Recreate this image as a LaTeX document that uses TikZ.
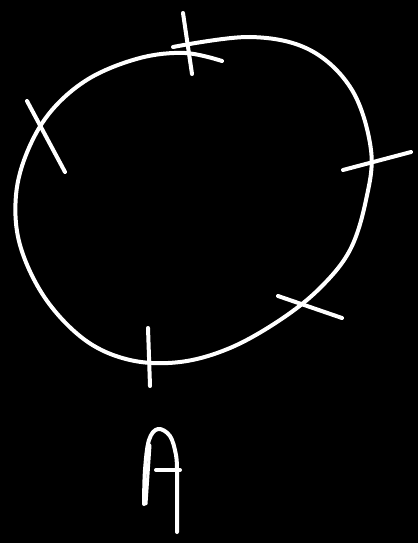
\documentclass[tikz,border=0pt]{standalone}
\begin{document}
\begin{tikzpicture}[x=1pt,y=-1pt,
  chalk/.style={draw=white,line width=4pt,line cap=round,line join=round}]
\fill[black] (0,0) rectangle (418,543);
\useasboundingbox (0,0) rectangle (418,543);
% oval
\draw[chalk] plot[smooth,tension=0.6] coordinates {
 (173,47) (250,37) (310,50) (352,90) (371,150) (366,200) (350,250) (320,288)
 (280,320) (230,348) (180,362) (130,360) (85,340) (45,298) (20,245) (16,195)
 (28,150) (52,110) (90,78) (140,58) (185,53) (222,61)};
% ticks
\draw[chalk] (183,13) -- (192,74);
\draw[chalk] (27,101) -- (65,172);
\draw[chalk] (343,170) -- (411,152);
\draw[chalk] (278,296) -- (342,318);
\draw[chalk] (148,328) -- (150,386);
% letter A
\draw[chalk] plot[smooth,tension=0.6] coordinates {(144,504) (145,470) (149,440) (158,429) (170,436) (176,455) (177,472)} -- (177,532);
\draw[chalk,line width=3pt] (146,504) -- (150,445);
\draw[chalk] (156,470) -- (180,470);
\end{tikzpicture}
\end{document}
